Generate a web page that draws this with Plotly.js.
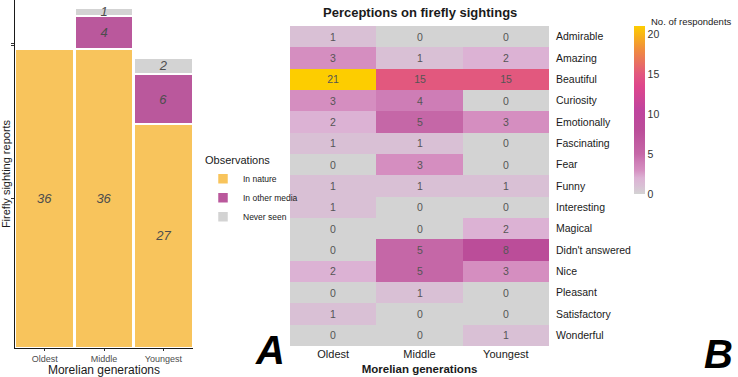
<!DOCTYPE html>
<html>
<head>
<meta charset="utf-8">
<script src="https://cdn.plot.ly/plotly-3.0.1.min.js"></script>
<style>
  html, body { margin: 0; padding: 0; background: #ffffff; }
  #chart { width: 738px; height: 377px; }
</style>
</head>
<body>
<div id="chart"></div>
<script>
// Panel A: firefly sighting reports by generation
const generations = ['Oldest', 'Middle', 'Youngest'];
const inNature = [36, 36, 27];
const inOtherMedia = [0, 4, 6];
const neverSeen = [0, 1, 2];

// Panel B: perceptions on firefly sightings (number of respondents)
const perceptions = ['Admirable', 'Amazing', 'Beautiful', 'Curiosity', 'Emotionally',
  'Fascinating', 'Fear', 'Funny', 'Interesting', 'Magical', "Didn't answered",
  'Nice', 'Pleasant', 'Satisfactory', 'Wonderful'];
const oldestCounts   = [1, 3, 21, 3, 2, 1, 0, 1, 1, 0, 0, 2, 0, 1, 0];
const middleCounts   = [0, 1, 15, 4, 5, 1, 3, 1, 0, 0, 5, 5, 1, 0, 0];
const youngestCounts = [0, 2, 15, 0, 3, 0, 0, 1, 0, 2, 8, 3, 0, 0, 1];
const colorbarTicks = [0, 5, 10, 15, 20];

const W = 738, H = 377;
const px = v => v / W;
const py = v => 1 - v / H;

const labelText = arr => arr.map(v => (v > 0 ? String(v) : ''));

function stackTrace(name, values, color) {
  return {
    type: 'bar', name: name, x: generations, y: values,
    xaxis: 'x', yaxis: 'y',
    marker: { color: color, line: { color: '#ffffff', width: 2.5 } },
    text: labelText(values), textposition: 'inside', insidetextanchor: 'middle',
    textangle: 0, constraintext: 'none', cliponaxis: false,
    textfont: { family: 'Liberation Sans, Arial, sans-serif', size: 13, color: '#4d4d4d', style: 'italic' },
    hoverinfo: 'x+y+name'
  };
}

const zRows = perceptions.map((p, i) => [oldestCounts[i], middleCounts[i], youngestCounts[i]]);
const zMax = Math.max(...oldestCounts, ...middleCounts, ...youngestCounts);

const traces = [
  stackTrace('In nature', inNature, '#f8c45c'),
  stackTrace('In other media', inOtherMedia, '#ba589c'),
  stackTrace('Never seen', neverSeen, '#d3d3d3'),
  {
    type: 'heatmap', x: generations, y: perceptions, z: zRows,
    xaxis: 'x2', yaxis: 'y2', zmin: 0, zmax: zMax,
    showlegend: false, xgap: 0, ygap: 0,
    colorscale: [
      [0.000, 'rgb(211,211,211)'],
      [0.048, 'rgb(217,192,213)'],
      [0.095, 'rgb(220,178,212)'],
      [0.143, 'rgb(213,142,192)'],
      [0.190, 'rgb(206,125,182)'],
      [0.238, 'rgb(197,103,167)'],
      [0.381, 'rgb(187,77,153)'],
      [0.500, 'rgb(192,68,158)'],
      [0.640, 'rgb(222,70,140)'],
      [0.714, 'rgb(226,88,126)'],
      [0.860, 'rgb(240,140,62)'],
      [1.000, 'rgb(253,205,0)']
    ],
    texttemplate: '%{z}',
    textfont: { family: 'Liberation Sans, Arial, sans-serif', size: 10.5, color: '#555555' },
    colorbar: {
      x: px(634), xanchor: 'left', y: py(26), yanchor: 'top',
      thickness: 11, thicknessmode: 'pixels',
      len: 168, lenmode: 'pixels',
      outlinewidth: 0, ticks: '', tickvals: colorbarTicks,
      tickfont: { family: 'Liberation Sans, Arial, sans-serif', size: 10.5, color: '#333333' },
      xpad: 0, ypad: 0, title: { text: '' }
    },
    hovertemplate: '%{y} / %{x}: %{z}<extra></extra>'
  }
];

// y tick marks at the mid-points of the Oldest column's segments
const oldestTicks = [inNature[0] / 2, inNature[0] + inOtherMedia[0] + 0.45, inNature[0] + inOtherMedia[0] + neverSeen[0] + 0.7];

const layout = {
  width: W, height: H,
  margin: { l: 0, r: 0, t: 0, b: 0 },
  paper_bgcolor: '#ffffff', plot_bgcolor: '#ffffff',
  font: { family: 'Liberation Sans, Arial, sans-serif', color: '#1a1a1a' },
  barmode: 'stack', bargap: 0,
  uniformtext: { mode: 'show', minsize: 13 },
  showlegend: true,
  legend: {
    x: px(203), xanchor: 'left', y: py(150), yanchor: 'top',
    traceorder: 'normal',
    title: { text: 'Observations', font: { size: 11, color: '#1a1a1a' } },
    font: { size: 8.5, color: '#1a1a1a' },
    tracegroupgap: 0, itemwidth: 30, bgcolor: 'rgba(0,0,0,0)'
  },
  xaxis: {
    domain: [px(15), px(193)], anchor: 'y', type: 'category', range: [-0.5, 2.5],
    showline: true, linecolor: '#1a1a1a', linewidth: 1, mirror: false,
    ticks: 'outside', ticklen: 2, tickcolor: '#333333',
    tickfont: { size: 9, color: '#4d4d4d' },
    showgrid: false, zeroline: false,
    title: { text: 'Morelian generations', font: { size: 12, color: '#1a1a1a' }, standoff: 5 }
  },
  yaxis: {
    domain: [1 - 348 / H, 1], anchor: 'x', range: [0, 348 / 8.3],
    showline: true, linecolor: '#1a1a1a', linewidth: 1,
    ticks: 'outside', ticklen: 3, tickcolor: '#333333',
    tickmode: 'array', tickvals: oldestTicks, showticklabels: false,
    showgrid: false, zeroline: false,
    title: { text: 'Firefly sighting reports', font: { size: 11, color: '#1a1a1a' }, standoff: 2 }
  },
  xaxis2: {
    domain: [px(290), px(549)], anchor: 'y2', type: 'category',
    showline: false, ticks: '', showgrid: false, zeroline: false,
    tickfont: { size: 11, color: '#1a1a1a' },
    title: { text: 'Morelian generations', font: { size: 11.5, color: '#1a1a1a', weight: 'bold' }, standoff: 5 }
  },
  yaxis2: {
    domain: [py(346), py(26)], anchor: 'x2', type: 'category', side: 'right',
    autorange: 'reversed', showline: false, ticks: '', showgrid: false, zeroline: false,
    ticklabelstandoff: 6,
    tickfont: { size: 10.5, color: '#1a1a1a' }
  },
  annotations: [
    {
      text: 'Perceptions on firefly sightings', xref: 'paper', yref: 'paper',
      x: px(420), y: py(13), xanchor: 'center', yanchor: 'middle', showarrow: false,
      font: { size: 13, color: '#1a1a1a', weight: 'bold' }
    },
    {
      text: 'No. of respondents', xref: 'paper', yref: 'paper',
      x: px(649), y: py(22), xanchor: 'left', yanchor: 'middle', showarrow: false,
      font: { size: 9.5, color: '#1a1a1a' }
    },
    {
      text: 'A', xref: 'paper', yref: 'paper',
      x: px(270), y: py(350), xanchor: 'center', yanchor: 'middle', showarrow: false,
      font: { size: 40, color: '#000000', weight: 'bold', style: 'italic' }
    },
    {
      text: 'B', xref: 'paper', yref: 'paper',
      x: px(718), y: py(354), xanchor: 'center', yanchor: 'middle', showarrow: false,
      font: { size: 40, color: '#000000', weight: 'bold', style: 'italic' }
    }
  ]
};

Plotly.newPlot('chart', traces, layout, { displayModeBar: false, staticPlot: true });
</script>
</body>
</html>
